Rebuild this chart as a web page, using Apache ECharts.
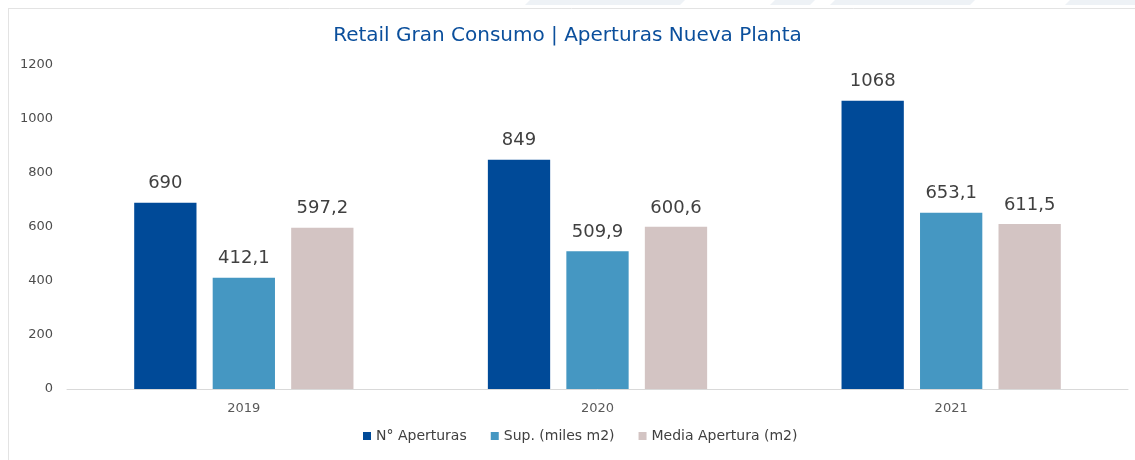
<!DOCTYPE html>
<html>
<head>
<meta charset="utf-8">
<script src="https://cdn.jsdelivr.net/npm/echarts@6/dist/echarts.min.js"></script>
<style>
  html, body { margin: 0; padding: 0; background: #fff; }
  #chart { width: 1135px; height: 460px; }
</style>
</head>
<body>
<div id="chart"></div>
<script>
const years = ["2019", "2020", "2021"];
const aperturas = [690, 849, 1068];
const superficie = [412.1, 509.9, 653.1];
const mediaApertura = [597.2, 600.6, 611.5];
const seriesNames = ["N° Aperturas", "Sup. (miles m2)", "Media Apertura (m2)"];
const colors = ["#004a98", "#4597c2", "#d3c4c3"];

const FONT = "DejaVu Sans";
const chart = echarts.init(document.getElementById("chart"));

// formato con coma decimal
const fmt = (p) => String(p.value).replace(".", ",");

function barSeries(name, data, color) {
  return {
    name: name,
    type: "bar",
    data: data,
    barGap: "26%",
    barCategoryGap: "38%",
    itemStyle: { color: color },
    label: {
      show: true,
      position: "top",
      distance: 10,
      formatter: fmt,
      color: "#404040",
      fontFamily: FONT,
      fontSize: 18,
    },
  };
}

const option = {
  animation: false,
  backgroundColor: "#fff",
  textStyle: { fontFamily: FONT },
  title: {
    text: "Retail Gran Consumo | Aperturas Nueva Planta",
    left: "center",
    top: 21,
    textStyle: {
      color: "#0b4f9c",
      fontFamily: FONT,
      fontSize: 20,
      fontWeight: "normal",
    },
  },
  legend: {
    bottom: 12,
    left: 358,
    itemWidth: 8,
    itemHeight: 8,
    itemGap: 24,
    icon: "rect",
    textStyle: { color: "#404040", fontFamily: FONT, fontSize: 14 },
    data: seriesNames,
  },
  grid: { left: 67, right: 7, top: 65, bottom: 71 },
  xAxis: {
    type: "category",
    data: years,
    axisLine: { lineStyle: { color: "#d9d9d9" } },
    axisTick: { show: false },
    axisLabel: { color: "#595959", fontSize: 13, margin: 13, fontFamily: FONT },
  },
  yAxis: {
    type: "value",
    min: 0,
    max: 1200,
    interval: 200,
    splitLine: { show: false },
    axisLine: { show: false },
    axisTick: { show: false },
    axisLabel: {
      color: "#4d4d4d",
      fontSize: 13,
      margin: 14,
      fontFamily: FONT,
      formatter: (v) => String(v),
    },
  },
  graphic: [
    { type: "polygon", shape: { points: [[530, 0], [685, 0], [680, 5], [525, 5]] }, style: { fill: "#eef2f6" } },
    { type: "polygon", shape: { points: [[775, 0], [815, 0], [810, 5], [770, 5]] }, style: { fill: "#eef2f6" } },
    { type: "polygon", shape: { points: [[835, 0], [975, 0], [970, 5], [830, 5]] }, style: { fill: "#eef2f6" } },
    { type: "polygon", shape: { points: [[1070, 0], [1135, 0], [1135, 5], [1065, 5]] }, style: { fill: "#eef2f6" } },
    { type: "line", shape: { x1: 8, y1: 8.5, x2: 1135, y2: 8.5 }, style: { stroke: "#e3e3e3", lineWidth: 1 } },
    { type: "line", shape: { x1: 8.5, y1: 8, x2: 8.5, y2: 460 }, style: { stroke: "#e3e3e3", lineWidth: 1 } },
  ],
  series: [
    barSeries(seriesNames[0], aperturas, colors[0]),
    barSeries(seriesNames[1], superficie, colors[1]),
    barSeries(seriesNames[2], mediaApertura, colors[2]),
  ],
};

chart.setOption(option);
</script>
</body>
</html>
